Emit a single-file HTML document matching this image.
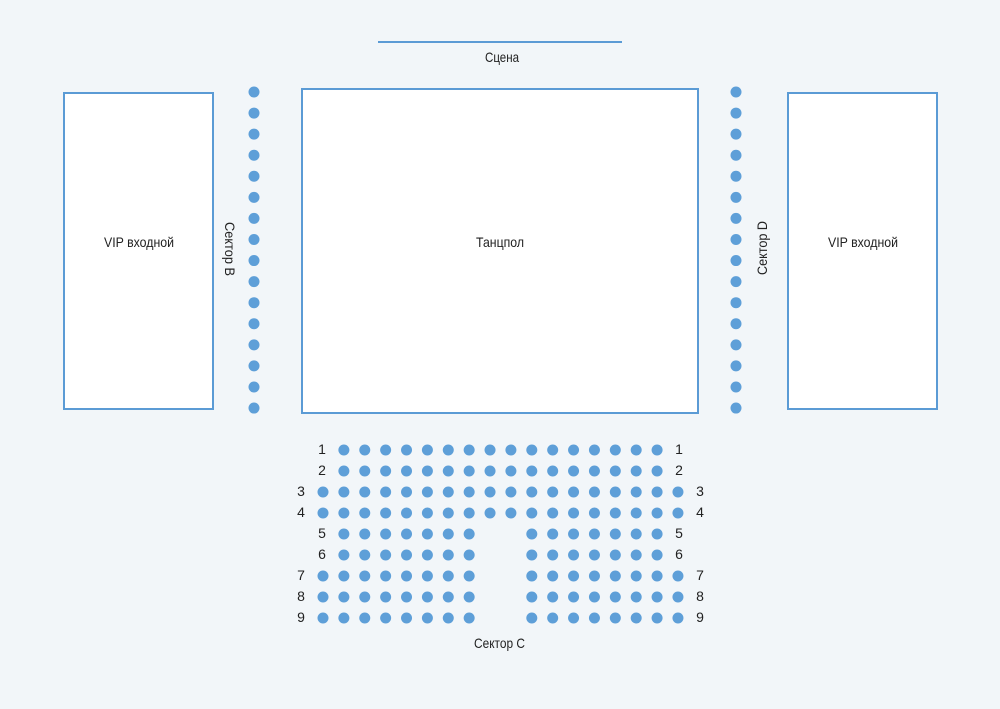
<!DOCTYPE html>
<html><head><meta charset="utf-8"><style>
html,body{margin:0;padding:0;background:#f2f6f9}
svg{display:block}
text{font-family:"Liberation Sans",sans-serif;fill:#222;font-size:14px}
</style></head><body>
<svg width="1000" height="709" viewBox="0 0 1000 709" xmlns="http://www.w3.org/2000/svg">
<rect width="1000" height="709" fill="#f2f6f9"/>
<line x1="378" y1="42" x2="622" y2="42" stroke="#5b9bd5" stroke-width="2"/>
<text x="485" y="62" textLength="34" lengthAdjust="spacingAndGlyphs">Сцена</text>
<rect x="64" y="93" width="149" height="316" fill="#fff" stroke="#5b9bd5" stroke-width="2"/>
<rect x="302" y="89" width="396" height="324" fill="#fff" stroke="#5b9bd5" stroke-width="2"/>
<rect x="788" y="93" width="149" height="316" fill="#fff" stroke="#5b9bd5" stroke-width="2"/>
<text x="104" y="247" textLength="70" lengthAdjust="spacingAndGlyphs">VIP входной</text>
<text x="828" y="247" textLength="70" lengthAdjust="spacingAndGlyphs">VIP входной</text>
<text x="476" y="247" textLength="48" lengthAdjust="spacingAndGlyphs">Танцпол</text>
<text transform="translate(225,222) rotate(90)" textLength="54" lengthAdjust="spacingAndGlyphs">Сектор B</text>
<text transform="translate(767,275) rotate(-90)" textLength="54" lengthAdjust="spacingAndGlyphs">Сектор D</text>
<text x="474" y="648" textLength="51" lengthAdjust="spacingAndGlyphs">Сектор С</text>
<g id="dots" fill="#5e9fd8"></g>
<g id="labels"></g>
<script>
var g=document.getElementById('dots'),L=document.getElementById('labels'),ns='http://www.w3.org/2000/svg';
function c(x,y){var e=document.createElementNS(ns,'circle');e.setAttribute('cx',x);e.setAttribute('cy',y);e.setAttribute('r',5.5);g.appendChild(e);}
function t(x,y,s){var e=document.createElementNS(ns,'text');e.setAttribute('x',x);e.setAttribute('y',y);e.setAttribute('text-anchor','middle');e.setAttribute('font-size','12');e.textContent=s;L.appendChild(e);}
for(var i=0;i<16;i++){c(254,92+i*21.07);c(736,92+i*21.07);}
for(var r=0;r<9;r++){
 var y=450+r*21;
 var full=(r<=3), wide=(r==2||r==3||r>=6);
 for(var k=0;k<18;k++){
  if(!wide&&(k==0||k==17))continue;
  if(!full&&k>=8&&k<=9)continue;
  c(323+20.88*k,y);
 }
 var lx=wide?301:322, rx=wide?700:679;
 t(lx,y+4,r+1);t(rx,y+4,r+1);
}
</script>
</svg>
</body></html>
